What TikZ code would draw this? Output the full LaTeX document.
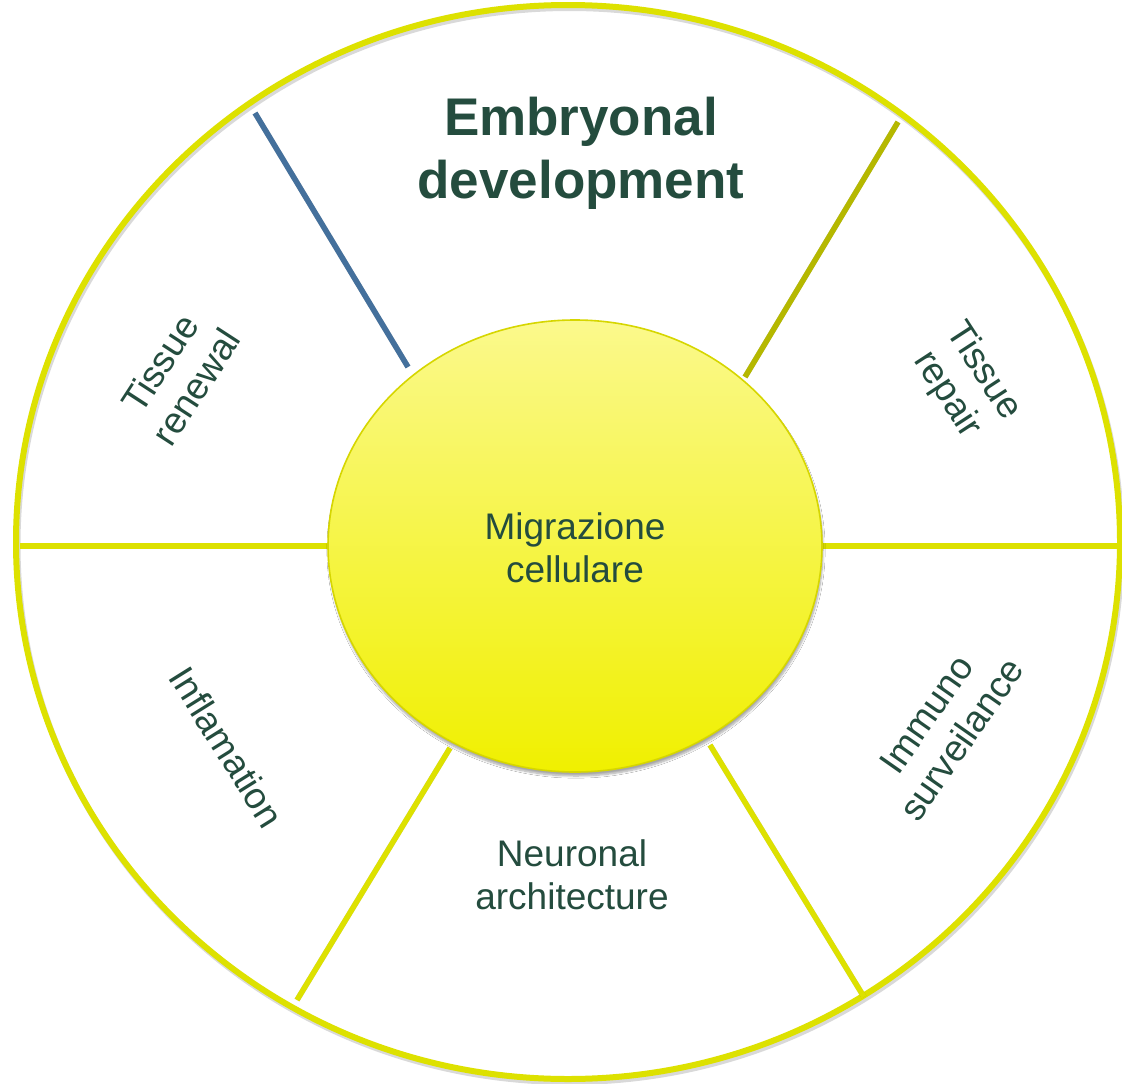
\documentclass[tikz,border=0pt]{standalone}
\usepackage{fontspec}
\setmainfont{Liberation Sans}
\usetikzlibrary{shapes.geometric,shadows.blur}
\definecolor{ringyellow}{RGB}{221,225,0}
\definecolor{spokeblue}{RGB}{68,112,156}
\definecolor{spokeolive}{RGB}{181,184,0}
\definecolor{txtgreen}{RGB}{36,76,62}
\definecolor{coretop}{RGB}{251,249,140}
\definecolor{corebot}{RGB}{240,240,0}
\definecolor{coreedge}{RGB}{214,214,0}
\tikzset{
  spoke/.style={line width=5.5pt},
  spokeshadow/.style={line width=5.5pt, black, opacity=0.18},
  lbl/.style={text=txtgreen, align=center, font=\fontsize{37}{43}\selectfont, inner sep=0pt},
}
\begin{document}
\begin{tikzpicture}[x=1pt,y=-1pt]
\useasboundingbox (0,0) rectangle (1122,1084);
\fill[white] (0,0) rectangle (1122,1084);
% outer ring shadow and ring
\draw[line width=6pt, black, opacity=0.15] (569.5,545) ellipse [x radius=552, y radius=537];
\draw[line width=6pt, ringyellow] (568,542) ellipse [x radius=552, y radius=537];
% spoke end points
\coordinate (b1) at (255,113); \coordinate (b2) at (408,367);
\coordinate (o1) at (898,122); \coordinate (o2) at (745,377);
\coordinate (l1) at (20,546);  \coordinate (l2) at (330,546);
\coordinate (r1) at (820,546); \coordinate (r2) at (1122,546);
\coordinate (ll1) at (450,748); \coordinate (ll2) at (297,1000);
\coordinate (lr1) at (710,745); \coordinate (lr2) at (864,997);
% spoke shadows
\begin{scope}[shift={(1.5,3)}]
\draw[spokeshadow] (b1) -- (b2);
\draw[spokeshadow] (o1) -- (o2);
\draw[spokeshadow] (l1) -- (l2);
\draw[spokeshadow] (r1) -- (r2);
\draw[spokeshadow] (ll1) -- (ll2);
\draw[spokeshadow] (lr1) -- (lr2);
\end{scope}
% spokes
\draw[spoke, spokeblue] (b1) -- (b2);
\draw[spoke, spokeolive] (o1) -- (o2);
\draw[spoke, ringyellow] (l1) -- (l2);
\draw[spoke, ringyellow] (r1) -- (r2);
\draw[spoke, ringyellow] (ll1) -- (ll2);
\draw[spoke, ringyellow] (lr1) -- (lr2);
% core
\node[ellipse, minimum width=494pt, minimum height=452pt, inner sep=0pt,
      draw=coreedge, line width=1.6pt, top color=coretop, bottom color=corebot,
      blur shadow={shadow xshift=1pt, shadow yshift=-4pt, shadow blur steps=8, shadow opacity=35}]
      (core) at (575,546) {};
\node[lbl] (coretext) at (575,548) {Migrazione\\cellulare};
% labels
\node[text=txtgreen, align=center, inner sep=0pt, font=\fontsize{53}{63}\selectfont\bfseries]
      (embryo) at (581,153) {Embryonal\\development};
\node[lbl, rotate=57] (renewal) at (178,375) {Tissue\\renewal};
\node[lbl, rotate=-57] (repair) at (965,383) {Tissue\\repair};
\node[lbl, rotate=-58] (inflam) at (227,747) {Inflamation};
\node[lbl, rotate=55] (immuno) at (944,727) {Immuno\\surveilance};
\node[lbl] (neuro) at (572,875) {Neuronal\\architecture};
\end{tikzpicture}
\end{document}
